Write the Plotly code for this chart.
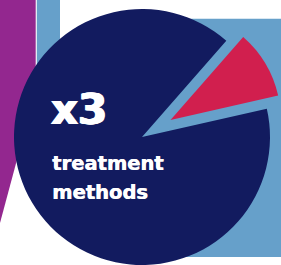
import plotly.graph_objects as go

# ---- data ----
slice_labels = ["treatment methods", "other"]
slice_values = [10, 90]
headline = "x3"
caption_lines = ["treatment", "methods"]

# ---- style ----
W, H = 281, 265
NAVY = "#121B5F"
RED = "#D11F4E"
LIGHT_BLUE = "#66A0CA"
PURPLE = "#93278F"
CLEAR = "rgba(0,0,0,0)"
FONT = "DejaVu Sans"


def px(x):
    return x / W


def py(y):
    return 1 - y / H


def box(cx, cy, r):
    return dict(x=[px(cx - r), px(cx + r)], y=[py(cy + r), py(cy - r)])


rotation = 41.2

fig = go.Figure()

# main navy pie (highlighted slice left empty)
fig.add_trace(go.Pie(
    labels=slice_labels, values=slice_values, sort=False,
    direction="clockwise", rotation=rotation,
    marker=dict(colors=[CLEAR, NAVY], line=dict(width=0)),
    textinfo="none", hoverinfo="skip", showlegend=False,
    domain=box(142, 137, 128),
))

# pulled-out red slice
fig.add_trace(go.Pie(
    labels=slice_labels, values=slice_values, sort=False,
    direction="clockwise", rotation=rotation,
    marker=dict(colors=[RED, CLEAR], line=dict(width=0)),
    textinfo="none", hoverinfo="skip", showlegend=False,
    domain=box(170.5, 120, 110.4),
))


def path(points):
    d = "M " + " L ".join(f"{px(x):.5f},{py(y):.5f}" for x, y in points) + " Z"
    return d


shapes = [
    dict(type="path", path=path([(0, 0), (35.7, 0), (35.7, 90), (0, 223)]),
         fillcolor=PURPLE, line=dict(width=0)),
    dict(type="rect", x0=px(36.8), x1=px(60), y0=py(0), y1=py(130),
         fillcolor=LIGHT_BLUE, line=dict(width=0)),
    dict(type="rect", x0=px(100), x1=px(281), y0=py(18.7), y1=py(257),
         fillcolor=LIGHT_BLUE, line=dict(width=0)),
]
for s in shapes:
    s.update(xref="paper", yref="paper", layer="below")

bold_big = "1px 0 0 white, -1px 0 0 white, 0 -0.5px 0 white"
bold_small = "0.6px 0 0 white"
annotations = [
    dict(text=headline, x=px(49), y=py(109), font=dict(size=42, color="white", family=FONT, weight="bold", shadow=bold_big)),
    dict(text=caption_lines[0], x=px(50), y=py(163.3), font=dict(size=19.5, color="white", family=FONT, weight="bold", shadow=bold_small)),
    dict(text=caption_lines[1], x=px(50), y=py(192.6), font=dict(size=19.5, color="white", family=FONT, weight="bold", shadow=bold_small)),
]
for a in annotations:
    a.update(xref="paper", yref="paper", xanchor="left", yanchor="middle", showarrow=False)

fig.update_layout(
    width=W, height=H, margin=dict(l=0, r=0, t=0, b=0),
    paper_bgcolor="white", plot_bgcolor="white",
    shapes=shapes, annotations=annotations, showlegend=False,
)

fig.write_html("out.html", config={"displayModeBar": False},
               post_script="document.body.style.margin='0';")
